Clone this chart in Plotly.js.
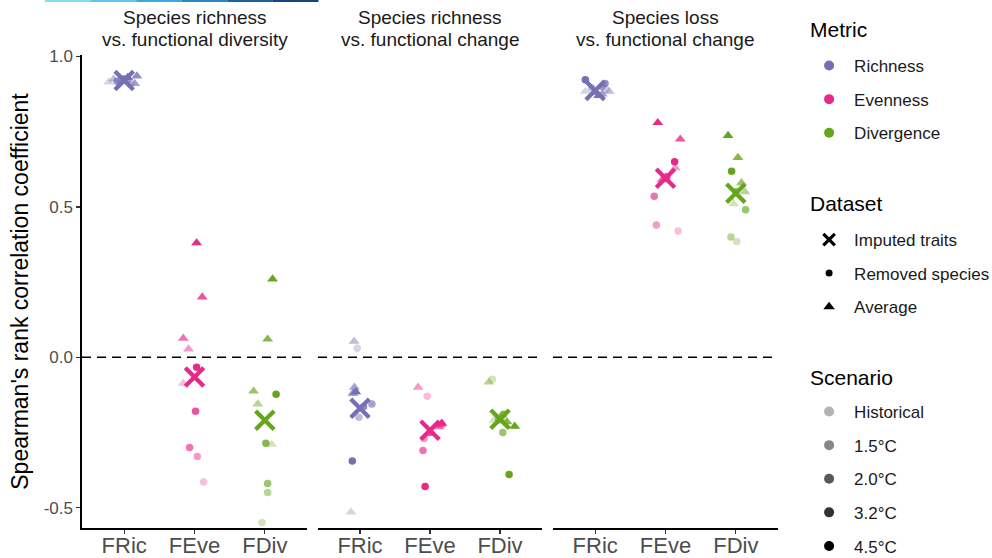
<!DOCTYPE html>
<html>
<head>
<meta charset="utf-8">
<script src="https://cdn.plot.ly/plotly-3.0.1.min.js"></script>
<style>html,body{margin:0;padding:0;background:#fff;} #chart{width:992px;height:558px;}</style>
</head>
<body>
<div id="chart"></div>
<script>
// ---------- data ----------
const panelTitleLine1 = ['Species richness', 'Species richness', 'Species loss'];
const panelTitleLine2 = ['vs. functional diversity', 'vs. functional change', 'vs. functional change'];
const metrics = ['Richness', 'Evenness', 'Divergence'];
const indices = ['FRic', 'FEve', 'FDiv'];
const datasets = ['Imputed traits', 'Removed species', 'Average'];
const scenarios = ['Historical', '1.5°C', '2.0°C', '3.2°C', '4.5°C'];
const scenarioAlpha = [0.3, 0.47, 0.65, 0.8, 1];
const scenarioGrey = ['#b3b3b3', '#878787', '#595959', '#333333', '#000000'];
const metricColors = ['#7570b3', '#e7298a', '#66a61e'];

// Panel 1: species richness vs functional diversity (rows: FRic, FEve, FDiv; cols: scenarios)
const p1Average = [[0.915, 0.925, 0.91, 0.935, 0.93], [-0.087, 0.027, 0.063, 0.20, 0.38], [-0.29, -0.156, -0.113, 0.06, 0.26]];
const p1AverageJit = [[-0.22, -0.15, 0.15, 0.18, 0.05], [-0.16, -0.085, -0.16, 0.11, 0.03], [0.1, -0.1, -0.16, 0.04, 0.11]];
const p1Removed = [[0.91, 0.915, 0.92, 0.918, 0.925], [-0.415, -0.33, -0.30, -0.18, -0.033], [-0.55, -0.45, -0.42, -0.286, -0.123]];
const p1RemovedJit = [[0.1, -0.05, 0.05, -0.1, 0.0], [0.13, 0.04, -0.07, 0.015, 0.03], [-0.04, 0.04, 0.04, 0.015, 0.16]];
const p1Imputed = [0.92, -0.066, -0.21];

// Panel 2: species richness vs functional change
const p2Average = [[-0.515, 0.053, -0.10, -0.12, -0.115], [-0.25, -0.10, -0.232, -0.225, -0.22], [-0.21, -0.083, -0.20, -0.215, -0.23]];
const p2AverageJit = [[-0.13, -0.085, -0.08, -0.1, -0.06], [0.0, -0.17, 0.13, 0.15, 0.17], [-0.085, -0.16, 0.0, 0.1, 0.21]];
const p2Removed = [[0.03, -0.20, -0.156, -0.165, -0.345], [-0.13, -0.27, -0.31, -0.25, -0.43], [-0.073, -0.21, -0.25, -0.19, -0.39]];
const p2RemovedJit = [[-0.04, -0.015, 0.17, 0.05, -0.11], [-0.04, -0.085, -0.1, 0.0, -0.07], [-0.11, -0.02, 0.04, 0.05, 0.13]];
const p2Imputed = [-0.17, -0.243, -0.206];

// Panel 3: species loss vs functional change
const p3Average = [[0.884, 0.884, 0.875, 0.88, 0.87], [0.60, 0.63, 0.59, 0.725, 0.78], [0.51, 0.55, 0.58, 0.664, 0.737]];
const p3AverageJit = [[-0.14, 0.2, 0.1, 0.0, 0.05], [0.0, 0.14, -0.05, 0.21, -0.11], [-0.03, 0.13, 0.08, 0.03, -0.11]];
const p3Removed = [[0.89, 0.895, 0.90, 0.91, 0.923], [0.42, 0.44, 0.535, 0.60, 0.65], [0.385, 0.40, 0.49, 0.55, 0.618]];
const p3RemovedJit = [[0.15, -0.05, 0.1, 0.14, -0.14], [0.18, -0.13, -0.16, 0.02, 0.13], [0.015, -0.07, 0.14, 0.0, -0.06]];
const p3Imputed = [0.887, 0.595, 0.545];

const yTickVals = [-0.5, 0, 0.5, 1];
const yTickText = ['-0.5', '0.0', '0.5', '1.0'];

// ---------- build ----------
const FONT = 'Liberation Sans, Arial, sans-serif';
const panels = [
  {avg: p1Average, avgJ: p1AverageJit, rem: p1Removed, remJ: p1RemovedJit, imp: p1Imputed, xa: 'x'},
  {avg: p2Average, avgJ: p2AverageJit, rem: p2Removed, remJ: p2RemovedJit, imp: p2Imputed, xa: 'x2'},
  {avg: p3Average, avgJ: p3AverageJit, rem: p3Removed, remJ: p3RemovedJit, imp: p3Imputed, xa: 'x3'}
];
const traces = [];
panels.forEach(p => {
  for (let m = 0; m < 3; m++) {
    traces.push({
      type: 'scatter', mode: 'markers', xaxis: p.xa, yaxis: 'y', showlegend: false, hoverinfo: 'skip',
      x: p.avgJ[m].map(j => m + 1 + j), y: p.avg[m],
      marker: {symbol: 'triangle-up', size: 9.5, color: metricColors[m], opacity: scenarioAlpha, line: {width: 0}}
    });
    traces.push({
      type: 'scatter', mode: 'markers', xaxis: p.xa, yaxis: 'y', showlegend: false, hoverinfo: 'skip',
      x: p.remJ[m].map(j => m + 1 + j), y: p.rem[m],
      marker: {symbol: 'circle', size: 7.5, color: metricColors[m], opacity: scenarioAlpha, line: {width: 0}}
    });
  }
  traces.push({
    type: 'scatter', mode: 'markers', xaxis: p.xa, yaxis: 'y', showlegend: false, hoverinfo: 'skip',
    x: [1, 2, 3], y: p.imp,
    marker: {symbol: 'x-thin-open', size: 18.5, color: metricColors, line: {width: 4.3, color: metricColors}}
  });
});

metrics.forEach((m, i) => traces.push({
  type: 'scatter', mode: 'markers', x: [null], y: [null], name: m, legend: 'legend', legendgroup: 'm' + i,
  marker: {symbol: 'circle', size: 10, color: metricColors[i]}
}));
const dsSymbols = ['x-thin-open', 'circle', 'triangle-up'];
const dsSizes = [11.5, 7, 10];
datasets.forEach((d, i) => traces.push({
  type: 'scatter', mode: 'markers', x: [null], y: [null], name: d, legend: 'legend2', legendgroup: 'd' + i,
  marker: {symbol: dsSymbols[i], size: dsSizes[i], color: '#000', line: {width: i === 0 ? 3.2 : 0, color: '#000'}}
}));
scenarios.forEach((s, i) => traces.push({
  type: 'scatter', mode: 'markers', x: [null], y: [null], name: s, legend: 'legend3', legendgroup: 's' + i,
  marker: {symbol: 'circle', size: 10, color: scenarioGrey[i]}
}));

const xBase = {
  range: [0.4, 3.6], tickvals: [1, 2, 3], ticktext: indices, showgrid: false, zeroline: false,
  showline: true, linecolor: '#000', linewidth: 1.6, ticks: 'outside', ticklen: 4, tickwidth: 1.3, tickcolor: '#333',
  tickfont: {family: FONT, size: 22, color: '#4d4d4d'}, ticklabelstandoff: -7,
  anchor: 'y', fixedrange: true, automargin: false
};
const legBase = {
  bgcolor: 'rgba(0,0,0,0)', font: {family: FONT, size: 17, color: '#1a1a1a'}, xanchor: 'left', yanchor: 'top',
  x: 1.0375, tracegroupgap: 8.5, itemwidth: 40, itemclick: false, itemdoubleclick: false
};
const annotations = [];
['x', 'x2', 'x3'].forEach((xa, i) => {
  annotations.push({
    xref: xa + ' domain', yref: 'paper', x: 0.5, y: 1.0785, xanchor: 'center', yanchor: 'middle', showarrow: false,
    text: panelTitleLine1[i], font: {family: FONT, size: 19, color: '#1a1a1a'}
  });
  annotations.push({
    xref: xa + ' domain', yref: 'paper', x: 0.5, y: 1.032, xanchor: 'center', yanchor: 'middle', showarrow: false,
    text: panelTitleLine2[i], font: {family: FONT, size: 19, color: '#1a1a1a'}
  });
});
[['Metric', 1.053], ['Dataset', 0.687], ['Scenario', 0.319]].forEach(t => annotations.push({
  xref: 'paper', yref: 'paper', x: 1.043, y: t[1], xanchor: 'left', yanchor: 'middle', showarrow: false,
  text: t[0], font: {family: FONT, size: 21, color: '#000'}
}));

const shapes = [];
['x', 'x2', 'x3'].forEach(xa => shapes.push({
  type: 'line', xref: xa + ' domain', yref: 'y', x0: 0, x1: 1, y0: 0, y1: 0,
  line: {color: '#000', width: 1.6, dash: '9px,6px'}, layer: 'below'
}));
const stripCols = ['#7fdcf7', '#5cc8f0', '#3aa9de', '#2787c2', '#1b639e', '#15457a'];
stripCols.forEach((c, i) => shapes.push({
  type: 'line', xref: 'paper', yref: 'paper', x0: -0.0532 + i * 0.0655, x1: -0.0532 + (i + 1) * 0.0655,
  y0: 1.114, y1: 1.114, line: {color: c, width: 2}
}));

const layout = {
  width: 992, height: 558, paper_bgcolor: '#fff', plot_bgcolor: '#fff',
  margin: {l: 82, r: 214, t: 55, b: 30, autoexpand: false},
  font: {family: FONT},
  xaxis: Object.assign({}, xBase, {domain: [0, 0.3233]}),
  xaxis2: Object.assign({}, xBase, {domain: [0.3391, 0.6609]}),
  xaxis3: Object.assign({}, xBase, {domain: [0.6767, 1]}),
  yaxis: {
    range: [-0.568, 1.005], tickvals: yTickVals, ticktext: yTickText, showgrid: false, zeroline: false,
    showline: true, linecolor: '#000', linewidth: 1.6, ticks: 'outside', ticklen: 4, tickwidth: 1.3, tickcolor: '#333',
    tickfont: {family: FONT, size: 17, color: '#4d4d4d'}, fixedrange: true, automargin: false,
    title: {text: "Spearman's rank correlation coefficient", font: {family: FONT, size: 23, color: '#000'}, standoff: 8}
  },
  legend: Object.assign({}, legBase, {y: 1.0148}),
  legend2: Object.assign({}, legBase, {y: 0.647}),
  legend3: Object.assign({}, legBase, {y: 0.2833}),
  annotations: annotations, shapes: shapes, showlegend: true
};
Plotly.newPlot('chart', traces, layout, {displayModeBar: false, staticPlot: true});
</script>
</body>
</html>
